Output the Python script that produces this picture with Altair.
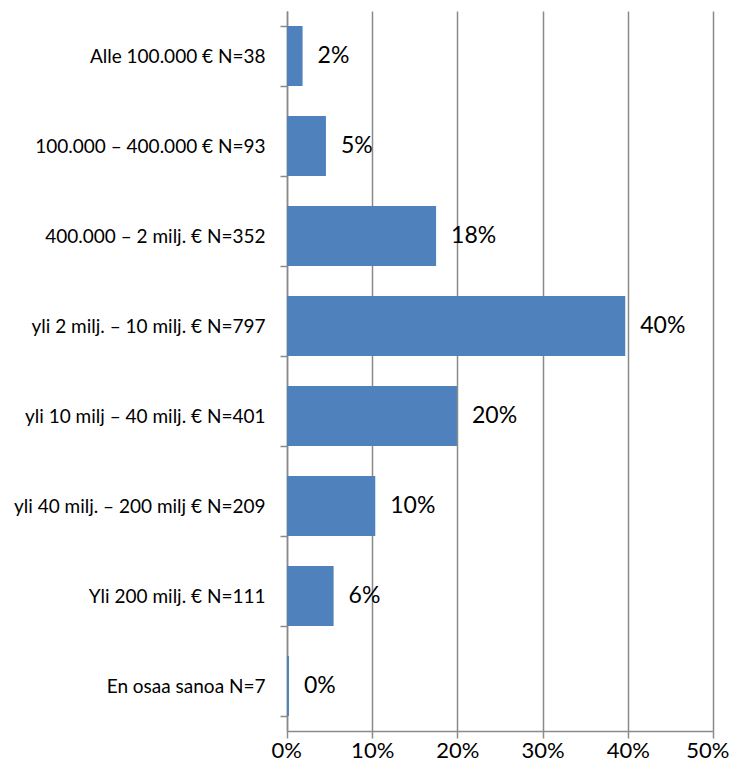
import altair as alt
import pandas as pd

categories = [
    "Alle 100.000 € N=38",
    "100.000 – 400.000 € N=93",
    "400.000 – 2 milj. € N=352",
    "yli 2 milj. – 10 milj. € N=797",
    "yli 10 milj – 40 milj. € N=401",
    "yli 40 milj. – 200 milj € N=209",
    "Yli 200 milj. € N=111",
    "En osaa sanoa N=7",
]
values = [0.0183, 0.0457, 0.175, 0.397, 0.1995, 0.1036, 0.0547, 0.0023]
labels = ["2%", "5%", "18%", "40%", "20%", "10%", "6%", "0%"]
x_ticks = [0, 0.1, 0.2, 0.3, 0.4, 0.5]

df = pd.DataFrame({"cat": categories, "val": values, "lab": labels})

FONT = "Lato"
GRAY = "#8a8a8a"

y_enc = alt.Y(
    "cat:N",
    sort=categories,
    title=None,
    scale=alt.Scale(paddingInner=1 / 3, paddingOuter=1 / 6),
    axis=alt.Axis(
        tickBand="extent",
        tickSize=7,
        tickColor=GRAY,
        tickWidth=1.5,
        domainColor=GRAY,
        domainWidth=1.5,
        labelPadding=15,
        labelFont=FONT,
        labelFontSize=19,
        labelColor="#000000",
        labelLimit=300,
        grid=False,
    ),
)

x_enc = alt.X(
    "val:Q",
    title=None,
    scale=alt.Scale(domain=[0, 0.5], nice=False),
    axis=alt.Axis(
        values=x_ticks,
        format=".0%",
        grid=True,
        gridColor=GRAY,
        gridWidth=1.5,
        domainColor=GRAY,
        domainWidth=1.5,
        tickColor=GRAY,
        tickWidth=1.5,
        tickSize=7,
        labelPadding=2,
        labelFlush=True,
        labelFlushOffset=16,
        labelFont=FONT,
        labelFontSize=22,
        labelColor="#000000",
    ),
)

bars = alt.Chart(df).mark_bar(color="#4F81BD").encode(x=x_enc, y=y_enc)

text = alt.Chart(df).mark_text(
    align="left", baseline="middle", dx=15, font=FONT, fontSize=23, color="#000000"
).encode(x="val:Q", y=alt.Y("cat:N", sort=categories), text="lab:N")

chart = (
    alt.layer(bars, text)
    .properties(
        width=426,
        height=720,
        autosize=alt.AutoSizeParams(type="none"),
        padding={"left": 279, "top": 3, "right": 17, "bottom": 36},
    )
    .configure_view(stroke=None)
)

chart.save("out.html", embed_options={"renderer": "svg", "actions": False})
